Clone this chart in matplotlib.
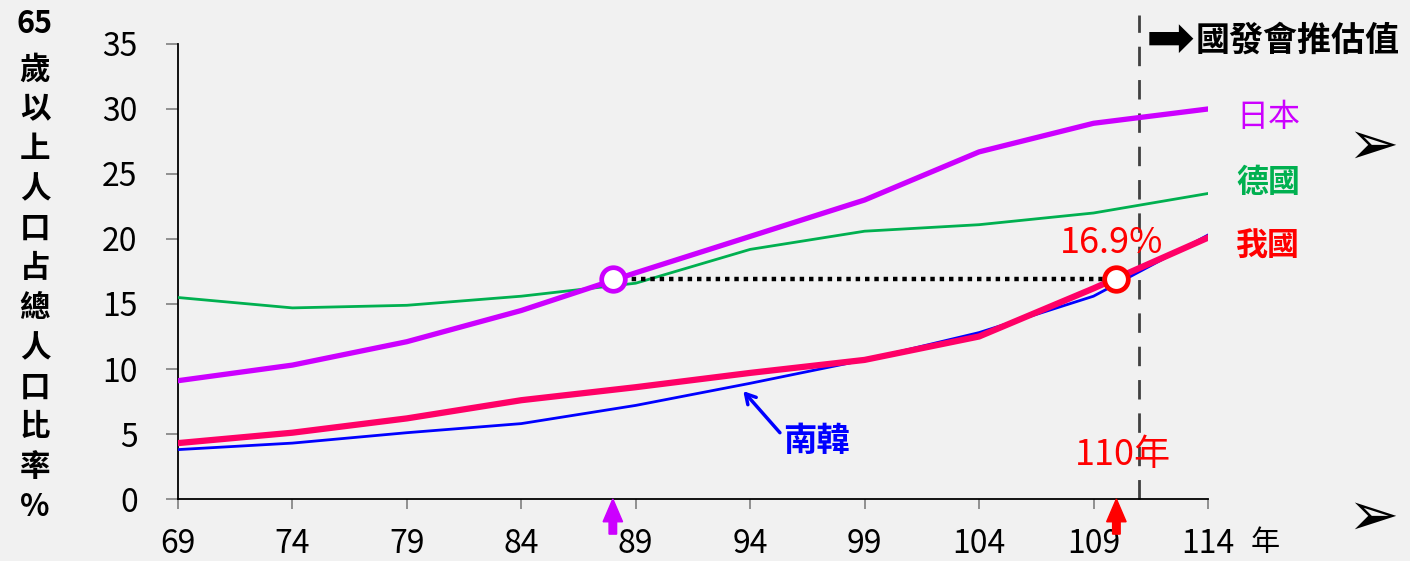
import numpy as np
import matplotlib
matplotlib.use("Agg")
import matplotlib.pyplot as plt
from matplotlib.patches import FancyArrow

plt.rcParams['font.family'] = ['Noto Sans CJK TC', 'DejaVu Sans']

# data (65歲以上人口占總人口比率 %)
years = [69, 74, 79, 84, 89, 94, 99, 104, 109, 114]
japan = [9.1, 10.3, 12.1, 14.5, 17.4, 20.2, 23.0, 26.7, 28.9, 30.0]
germany = [15.5, 14.7, 14.9, 15.6, 16.6, 19.2, 20.6, 21.1, 22.0, 23.5]
korea = [3.8, 4.3, 5.1, 5.8, 7.2, 8.9, 10.7, 12.8, 15.6, 20.3]
taiwan = [4.3, 5.1, 6.2, 7.6, 8.6, 9.7, 10.7, 12.5, 16.2, 20.1]

jp_year, tw_year, ref_value = 88, 110, 16.9
proj_start = 111
xticks = [69, 74, 79, 84, 89, 94, 99, 104, 109, 114]
yticks = [0, 5, 10, 15, 20, 25, 30, 35]

bg = '#f1f1f1'
c_jp, c_de, c_kr, c_tw = '#cc00ff', '#00b050', '#0000ff', '#ff0066'

fig = plt.figure(figsize=(14.1, 5.61), dpi=100, facecolor=bg)
ax = fig.add_axes([0.1262, 0.1105, 0.7305, 0.8111], facecolor=bg)

ax.plot(years, germany, color=c_de, lw=2.0, zorder=3)
ax.plot(years, japan, color=c_jp, lw=3.8, zorder=4)
ax.plot(years, korea, color=c_kr, lw=2.0, zorder=4)
ax.plot(years, taiwan, color=c_tw, lw=4.5, zorder=5)

# dotted reference line and circles
ax.plot([jp_year, tw_year], [ref_value, ref_value], color='black', lw=3.2,
        linestyle=(0, (1, 1.1)), zorder=6)
ax.plot([jp_year], [ref_value], 'o', ms=17, mfc='white', mec=c_jp, mew=3.4, zorder=7)
ax.plot([tw_year], [ref_value], 'o', ms=17, mfc='white', mec='#ff0000', mew=3.4, zorder=7)

# projection line
ax.plot([proj_start, proj_start], [0, 37.2], color='#404040', lw=2.0,
        dashes=(7, 5), clip_on=False, zorder=2)

ax.set_xlim(69, 114)
ax.set_ylim(0, 35)
ax.set_xticks(xticks)
ax.set_yticks(yticks)
ax.spines['top'].set_visible(False)
ax.spines['right'].set_visible(False)
ax.spines['left'].set_linewidth(1.3)
ax.spines['bottom'].set_linewidth(1.3)
ax.tick_params(axis='y', direction='out', length=9, width=1.3, color='#888888',
               labelsize=23, pad=20)
ax.tick_params(axis='x', direction='out', length=7, width=1.3, color='#888888',
               labelsize=23, pad=14)

# y label (vertical stacked)
ylab = ['65', '歲', '以', '上', '人', '口', '占', '總', '人', '口', '比', '率', '%']
for i, s in enumerate(ylab):
    yy = 24 if i == 0 else 70 + (i - 1) * 39.7
    fig.text(35 / 1410, 1 - yy / 561, s, ha='center', va='center',
             fontsize=22, fontweight='bold', color='black')

fig.text(1265 / 1410, 1 - 543 / 561, '年', ha='center', va='center', fontsize=21)

# projection label
fig.text(1170 / 1410, 1 - 40 / 561, '➡', ha='center', va='center', fontsize=42,
         family='DejaVu Sans', color='black')
fig.text(1196 / 1410, 1 - 40 / 561, '國發會推估值', ha='left', va='center',
         fontsize=24.5, fontweight='bold', color='black')

# series labels
fig.text(1268 / 1410, 1 - 117 / 561, '日本', ha='center', va='center', fontsize=23, color=c_jp)
fig.text(1268 / 1410, 1 - 183 / 561, '德國', ha='center', va='center', fontsize=23, color=c_de,
         fontweight='bold')
fig.text(1268 / 1410, 1 - 247 / 561, '我國', ha='center', va='center', fontsize=23, color='#ff0000',
         fontweight='bold')

for yy in (147, 518):
    fig.text(1373 / 1410, 1 - yy / 561, '➢', ha='center', va='center', fontsize=44,
             family='DejaVu Sans', color='black')

ax.text(tw_year - 0.2, 19.7, '16.9%', ha='center', va='center', fontsize=26, color='#ff0000')
ax.text(tw_year + 0.3, 3.4, '110年', ha='center', va='center', fontsize=26, color='#ff0000')

# 南韓 label with arrow
ax.annotate('', xy=(93.7, 8.3), xytext=(95.3, 5.1),
            arrowprops=dict(arrowstyle='->,head_length=0.7,head_width=0.4', color=c_kr, lw=2.5,
                            shrinkA=0, shrinkB=0))
ax.text(96.9, 4.4, '南韓', ha='center', va='center', fontsize=24, fontweight='bold', color=c_kr)

# arrows under the axis
for xa, col in ((jp_year, c_jp), (tw_year, '#ff0000')):
    arr = FancyArrow(xa, -2.7, 0, 2.7, width=0.33, head_width=0.85, head_length=1.75,
                     length_includes_head=True, color=col, clip_on=False, zorder=8)
    ax.add_patch(arr)

fig.savefig('out.png', dpi=100, facecolor=bg)
